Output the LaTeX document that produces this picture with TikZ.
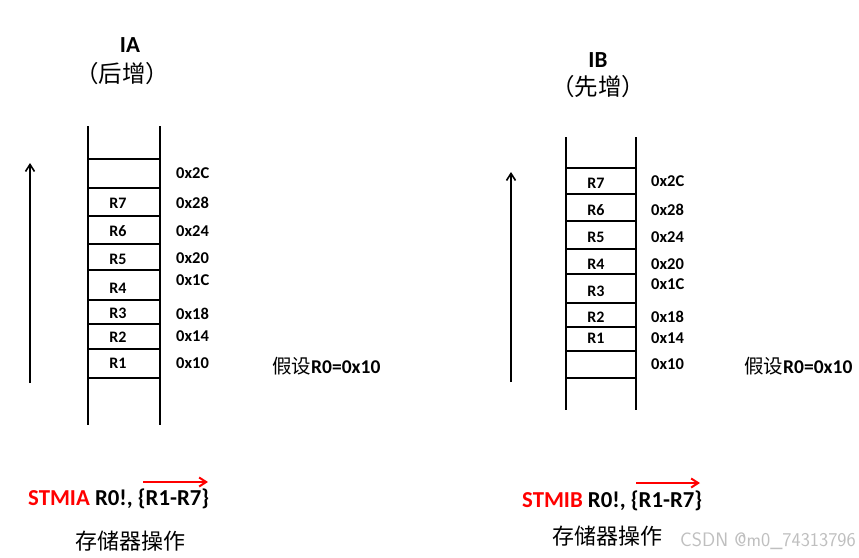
\documentclass[tikz,border=0pt]{standalone}
\usepackage{fontspec}
\setmainfont{Carlito}
\newfontfamily\cjk{Noto Sans CJK SC}
\usetikzlibrary{arrows.meta, positioning}
\definecolor{opred}{HTML}{FF0000}
\definecolor{wmgray}{HTML}{BFBFBF}
\tikzset{
  wall/.style={line width=1.8pt, draw=black},
  slot/.style={line width=1.6pt, draw=black},
  reg/.style={font=\fontsize{16}{16}\selectfont\bfseries, inner sep=0pt},
  addr/.style={font=\fontsize{16.5}{16.5}\selectfont\bfseries, inner sep=0pt, anchor=west},
  ttl/.style={font=\fontsize{23}{23}\selectfont\bfseries, inner sep=0pt},
  sub/.style={font=\fontsize{23.5}{23.5}\selectfont\cjk, inner sep=0pt},
  note/.style={font=\fontsize{19.5}{19.5}\selectfont, inner sep=0pt, anchor=west},
  instr/.style={font=\fontsize{22.8}{22.8}\selectfont\bfseries, inner sep=0pt, anchor=west},
  opname/.style={font=\fontsize{22}{22}\selectfont\cjk, inner sep=0pt},
  uparrow/.style={-{Straight Barb[length=7pt, width=9pt]}, line width=1.6pt},
  dirarrow/.style={-{Straight Barb[length=7pt, width=9pt]}, line width=2pt, draw=opred},
}

\begin{document}
\begin{tikzpicture}[x=1pt, y=-1pt]
  \useasboundingbox (0,0) rectangle (859,557);
  \fill[white] (0,0) rectangle (859,557);

  % IA stack (post-increment)
  \node[ttl] (iattl) at (130,45) {IA};
  \node[sub] (iasub) at (122,74) {（后增）};
  \draw[wall] (88,126) -- (88,425);
  \draw[wall] (160,126) -- (160,425);
  \foreach \y in {159,188,216,244,270,300,324,349,378}
    \draw[slot] (88,\y) -- (160,\y);
  \node[reg] (iar7) at (118,203) {R7};
  \node[reg] (iar6) at (118,231) {R6};
  \node[reg] (iar5) at (118,259) {R5};
  \node[reg] (iar4) at (118,288) {R4};
  \node[reg] (iar3) at (118,313) {R3};
  \node[reg] (iar2) at (118,337) {R2};
  \node[reg] (iar1) at (118,363) {R1};
  \node[addr] (iaa2c) at (176,173) {0x2C};
  \node[addr] (iaa28) at (176,203) {0x28};
  \node[addr] (iaa24) at (176,231) {0x24};
  \node[addr] (iaa20) at (176,258) {0x20};
  \node[addr] (iaa1c) at (176,280) {0x1C};
  \node[addr] (iaa18) at (176,314) {0x18};
  \node[addr] (iaa14) at (176,336) {0x14};
  \node[addr] (iaa10) at (176,363) {0x10};
  \coordinate (iaup0) at (30,383);
  \coordinate (iaup1) at (30,163);
  \draw[uparrow] (iaup0) -- (iaup1);
  \node[note] (ianote) at (272,366) {{\cjk 假设}\textbf{R0=0x10}};
  \node[instr] (iainstr) at (28,499) {\textcolor{opred}{STMIA} R0!, \{R1-R7\}};
  \coordinate (iadir0) at (143,482);
  \coordinate (iadir1) at (208,482);
  \draw[dirarrow] (iadir0) -- (iadir1);
  \node[opname] (iaop) at (130,541) {存储器操作};

  % IB stack (pre-increment)
  \node[ttl] (ibttl) at (598,60) {IB};
  \node[sub] (ibsub) at (598,87) {（先增）};
  \draw[wall] (566,137) -- (566,410);
  \draw[wall] (636,137) -- (636,410);
  \foreach \y in {168,194,221,249,274,303,327,351,378}
    \draw[slot] (566,\y) -- (636,\y);
  \node[reg] (ibr7) at (596,183) {R7};
  \node[reg] (ibr6) at (596,210) {R6};
  \node[reg] (ibr5) at (596,237) {R5};
  \node[reg] (ibr4) at (596,264) {R4};
  \node[reg] (ibr3) at (596,291) {R3};
  \node[reg] (ibr2) at (596,317) {R2};
  \node[reg] (ibr1) at (596,338) {R1};
  \node[addr] (iba2c) at (651,181) {0x2C};
  \node[addr] (iba28) at (651,210) {0x28};
  \node[addr] (iba24) at (651,237) {0x24};
  \node[addr] (iba20) at (651,264) {0x20};
  \node[addr] (iba1c) at (651,284) {0x1C};
  \node[addr] (iba18) at (651,317) {0x18};
  \node[addr] (iba14) at (651,338) {0x14};
  \node[addr] (iba10) at (651,364) {0x10};
  \coordinate (ibup0) at (511,382);
  \coordinate (ibup1) at (511,172);
  \draw[uparrow] (ibup0) -- (ibup1);
  \node[note] (ibnote) at (744,366) {{\cjk 假设}\textbf{R0=0x10}};
  \node[instr] (ibinstr) at (522,501) {\textcolor{opred}{STMIB} R0!, \{R1-R7\}};
  \coordinate (ibdir0) at (636,483);
  \coordinate (ibdir1) at (700,483);
  \draw[dirarrow] (ibdir0) -- (ibdir1);
  \node[opname] (ibop) at (607,536) {存储器操作};

  \node[font=\fontsize{19.5}{19.5}\selectfont\sffamily, text=wmgray, inner sep=0pt, anchor=west] (wmark) at (680,541) {CSDN @m0\_74313796};
\end{tikzpicture}
\end{document}
